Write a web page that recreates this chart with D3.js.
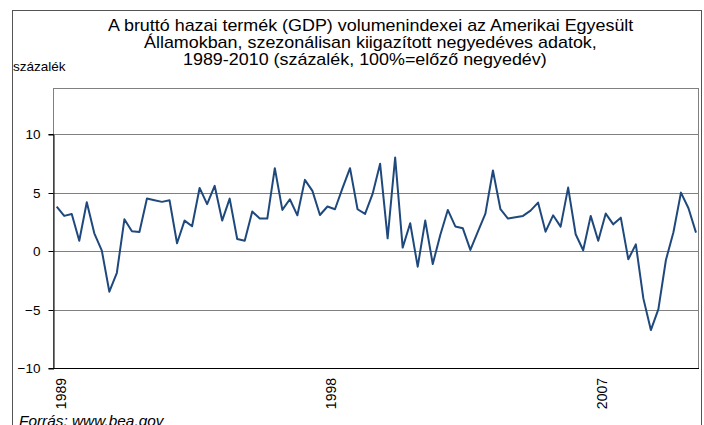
<!DOCTYPE html>
<html lang="hu">
<head>
    <meta charset="UTF-8">
    <title>GDP volumenindex USA</title>
    <script src="https://d3js.org/d3.v7.min.js"></script>
    <style>
        body { margin: 0; background: #fff; }
        svg { display: block; font-family: "Liberation Sans", Arial, sans-serif; }
    </style>
</head>
<body>
<svg id="chart" width="704" height="425"></svg>
<script>
    // quarterly values, 1989 Q1 - 2010 Q2 (percent, annualised change)
    const values = [
        3.80, 3.00, 3.17, 0.88, 4.17, 1.51, 0.03, -3.48, -1.86, 2.71,
        1.68, 1.63, 4.48, 4.34, 4.20, 4.34, 0.66, 2.60, 2.11, 5.39,
        4.00, 5.57, 2.60, 4.48, 1.03, 0.88, 3.37, 2.77, 2.77, 7.08,
        3.51, 4.42, 3.05, 6.08, 5.14, 3.08, 3.80, 3.57, 5.37, 7.08,
        3.57, 3.17, 4.88, 7.45, 1.08, 7.99, 0.29, 2.37, -1.34, 2.60,
        -1.11, 1.37, 3.51, 2.10, 1.94, 0.09, 1.65, 3.20, 6.88, 3.57,
        2.77, 2.88, 3.00, 3.45, 4.14, 1.65, 3.05, 2.08, 5.42, 1.43,
        0.06, 3.00, 0.88, 3.20, 2.28, 2.85, -0.71, 0.57, -4.05, -6.76,
        -4.97, -0.77, 1.60, 4.99, 3.65, 1.57
    ];
    const xTickLabels = ["1989", "1998", "2007"];
    const xTickIndex = [0, 36, 72];
    const yTicks = [-10, -5, 0, 5, 10];
    const yGrid = [-5, 0, 5, 10];

    const titleLines = [
        "A bruttó hazai termék (GDP) volumenindexei az Amerikai Egyesült",
        "Államokban, szezonálisan kiigazított negyedéves adatok,",
        "1989-2010 (százalék, 100%=előző negyedév)"
    ];
    const titleStarts = [108, 144, 183];
    const yLabel = "százalék";
    const source = "Forrás: www.bea.gov";

    const svg = d3.select("#chart");

    const plot = { left: 53, right: 698, top: 88, bottom: 368 };

    const x = d3.scaleLinear()
        .domain([0, values.length - 1])
        .range([56.7, 696]);

    const y = d3.scaleLinear()
        .domain([-10, 10])
        .range([plot.bottom, 134]);

    // outer chart frame (runs past the bottom edge)
    svg.append("rect")
        .attr("x", 12.5).attr("y", 10.5)
        .attr("width", 689).attr("height", 440)
        .attr("fill", "none")
        .attr("stroke", "#555")
        .attr("stroke-width", 1);

    // title - the original is a bit wider than tall, so stretch it
    svg.append("g")
        .selectAll("text")
        .data(titleLines)
        .join("text")
        .attr("transform", (d, i) => `translate(${titleStarts[i]},${30.5 + i * 17}) scale(1.12,1)`)
        .attr("font-size", "16px")
        .attr("fill", "#000")
        .text(d => d);

    svg.append("text")
        .attr("transform", "translate(13,71) scale(1.04,1)")
        .attr("font-size", "13px")
        .text(yLabel);

    // plot area frame
    svg.append("rect")
        .attr("x", plot.left + 0.5).attr("y", plot.top + 0.5)
        .attr("width", plot.right - plot.left).attr("height", plot.bottom - plot.top)
        .attr("fill", "none")
        .attr("stroke", "#808080");

    // grid lines
    svg.append("g")
        .selectAll("line")
        .data(yGrid)
        .join("line")
        .attr("x1", plot.left)
        .attr("x2", plot.right)
        .attr("y1", d => Math.round(y(d)) + 0.5)
        .attr("y2", d => Math.round(y(d)) + 0.5)
        .attr("stroke", "#808080")
        .attr("stroke-width", 1);

    // y axis
    const yAxis = svg.append("g")
        .attr("transform", `translate(${plot.left + 0.5},0.5)`)
        .call(d3.axisLeft(y).tickValues(yTicks).tickSize(5).tickPadding(8).tickFormat(d3.format("d")));
    yAxis.select(".domain").attr("stroke", "#000");
    yAxis.selectAll(".tick line").attr("stroke", "#000");
    yAxis.selectAll(".tick text")
        .attr("font-family", "Liberation Sans, Arial, sans-serif")
        .attr("font-size", "13.5px")
        .attr("fill", "#000");
    yAxis.selectAll(".tick").attr("transform", d => `translate(0,${Math.round(y(d))})`);

    // x axis line
    svg.append("line")
        .attr("x1", plot.left)
        .attr("x2", plot.right + 1)
        .attr("y1", plot.bottom + 0.5)
        .attr("y2", plot.bottom + 0.5)
        .attr("stroke", "#000");

    svg.append("g")
        .selectAll("text")
        .data(xTickLabels)
        .join("text")
        .attr("transform", (d, i) => `translate(${x(xTickIndex[i]) + 4},378) rotate(-90)`)
        .attr("text-anchor", "end")
        .attr("dy", "0.35em")
        .attr("font-size", "14px")
        .text(d => d);

    // series
    const line = d3.line()
        .x((d, i) => x(i))
        .y(d => y(d));

    svg.append("path")
        .datum(values)
        .attr("d", line)
        .attr("fill", "none")
        .attr("stroke", "#1F497D")
        .attr("stroke-width", 2)
        .attr("stroke-linejoin", "round");

    svg.append("text")
        .attr("transform", "translate(19,426) scale(1.1,1)")
        .attr("font-size", "14px")
        .attr("font-style", "italic")
        .text(source);
</script>
</body>
</html>
